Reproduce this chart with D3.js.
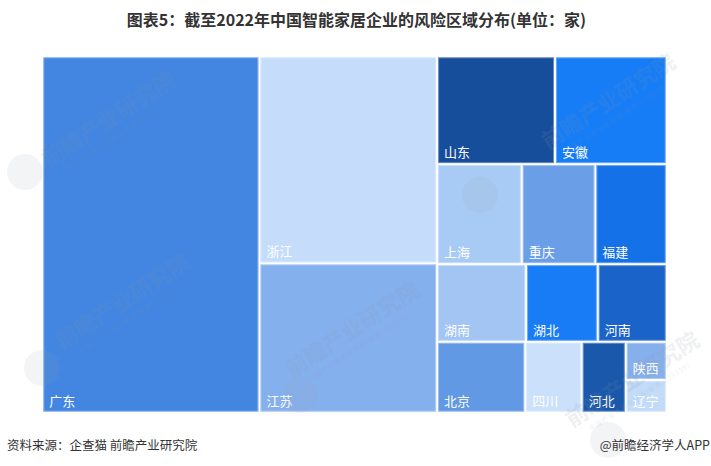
<!DOCTYPE html>
<html><head><meta charset="utf-8">
<script src="https://cdn.jsdelivr.net/npm/d3@7/dist/d3.min.js"></script>
<style>
html,body{margin:0;padding:0;background:#fff;}
svg{display:block;font-family:"Noto Sans CJK SC","Noto Sans",sans-serif;}
</style></head>
<body>
<svg id="chart" width="711" height="466"></svg>
<script>
// ---- data ----
const title = "图表5：截至2022年中国智能家居企业的风险区域分布(单位：家)";
const source = "资料来源：企查猫 前瞻产业研究院";
const brand = "@前瞻经济学人APP";
const provinces = ["广东","浙江","江苏","山东","安徽","上海","重庆","福建","湖南","湖北","河南","北京","四川","河北","陕西","辽宁"];
const values    = [347, 165, 119, 57, 54, 38, 33, 32, 31, 25, 24, 28, 18, 14, 7, 6];
const colors    = ["#4286e2","#c5ddfa","#85b0ee","#174e9c","#177df6","#a8cbf5","#6a9ee6","#1571e7",
                   "#a2c5f3","#177cf5","#1a63c8","#6199e4","#cae0fb","#1958ab","#86b0ec","#c2dbf8"];
// nesting of provinces (indices) as arranged in the treemap
const layout = [0, [1, 2], [[3, 4], [5, 6, 7], [8, 9, 10], [11, 12, 13, [14, 15]]]];

const svg = d3.select("#chart");
const W = 711, H = 466;
const area = {x: 43.3, y: 57.3, w: 622.4, h: 354.4};

function build(node) {
  if (Array.isArray(node)) return {children: node.map(build)};
  return {name: provinces[node], value: values[node], color: colors[node]};
}
const root = d3.hierarchy(build(layout)).sum(d => d.value || 0);
d3.treemap()
  .tile(d3.treemapSliceDice)
  .size([area.w, area.h])
  .paddingInner(2)
  .round(false)(root);

const g = svg.append("g").attr("transform", `translate(${area.x},${area.y})`);
const leaves = g.selectAll("g.leaf").data(root.leaves()).join("g").attr("class","leaf");
leaves.append("rect")
  .attr("x", d => d.x0).attr("y", d => d.y0)
  .attr("width", d => d.x1 - d.x0).attr("height", d => d.y1 - d.y0)
  .attr("fill", d => d.data.color);
leaves.append("rect")
  .attr("x", d => d.x0 + 0.5).attr("y", d => d.y0 + 0.5)
  .attr("width", d => d.x1 - d.x0 - 1).attr("height", d => d.y1 - d.y0 - 1)
  .attr("fill", "none").attr("stroke", "rgba(255,255,255,0.35)").attr("stroke-width", 1);
leaves.append("text")
  .attr("x", d => d.x0 + 6).attr("y", d => d.y1 - 6)
  .attr("fill", "#fff").attr("font-size", 13)
  .text(d => d.data.name);

// watermarks
const marks = [
  {x: 48, y: 168, lx: 25, ly: 172},
  {x: 548, y: 150, lx: 480, ly: 195},
  {x: 62, y: 350, lx: 42, ly: 368},
  {x: 292, y: 378, lx: 300, ly: 395},
  {x: 572, y: 428, lx: 608, ly: 440}
];
const wm = svg.append("g").attr("pointer-events","none");
marks.forEach(m => {
  wm.append("circle").attr("cx", m.lx).attr("cy", m.ly).attr("r", 18)
    .attr("fill", "#9aa3ad").attr("opacity", 0.12);
  const t = wm.append("g").attr("transform", `translate(${m.x},${m.y}) rotate(-33)`);
  t.append("text").attr("font-size", 22).attr("font-weight", "bold")
    .attr("fill", "#8a94a0").attr("opacity", 0.13).text("前瞻产业研究院");
  t.append("text").attr("y", 13).attr("x", 14).attr("font-size", 6.5).attr("letter-spacing", 1)
    .attr("fill", "#8a94a0").attr("opacity", 0.13).text("中国产业咨询领导者(股票:839599)");
});

// title & footer
svg.append("text").attr("x", W / 2 + 1).attr("y", 26).attr("text-anchor", "middle")
  .attr("font-size", 16).attr("font-weight", "bold").attr("fill", "#333").text(title);
svg.append("text").attr("x", 7).attr("y", 450).attr("font-size", 12.5).attr("fill", "#333").text(source);
svg.append("text").attr("x", 710).attr("y", 450).attr("text-anchor", "end")
  .attr("font-size", 12.5).attr("fill", "#333").text(brand);
</script>
</body></html>
